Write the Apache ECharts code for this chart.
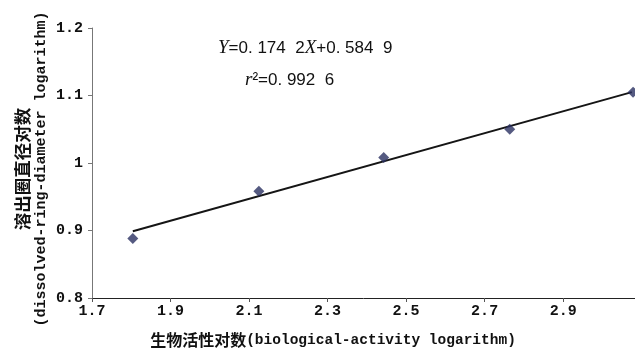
<!DOCTYPE html>
<html>
<head>
<meta charset="utf-8">
<script src="https://cdn.jsdelivr.net/npm/echarts@6/dist/echarts.min.js"></script>
<style>html,body{margin:0;padding:0;background:#fff;}#c{width:635px;height:349px;}</style>
</head>
<body>
<div id="c"></div>
<script>
var xValues = [1.804, 2.125, 2.443, 2.764, 3.078];
var yValues = [0.888, 0.958, 1.008, 1.050, 1.105];
var fitX = [1.804, 3.075];
var fitY = [0.899, 1.105];
var xTicks = [1.7, 1.9, 2.1, 2.3, 2.5, 2.7, 2.9];
var xMax = 3.083;
var yTicks = [0.8, 0.9, 1, 1.1, 1.2];

var pts = xValues.map(function (x, i) { return [x, yValues[i]]; });
var fit = fitX.map(function (x, i) { return [x, fitY[i]]; });

var chart = echarts.init(document.getElementById('c'));
var latin = 'Liberation Mono';
var cjk = 'Noto Sans CJK SC';
chart.setOption({
  animation: false,
  backgroundColor: '#fff',
  grid: { left: 92, top: 28, right: 0, bottom: 51, containLabel: false },
  xAxis: {
    type: 'value', min: xTicks[0], max: xMax, interval: 0.2,
    splitLine: { show: false },
    axisLine: { lineStyle: { color: '#222', width: 1 } },
    axisTick: { length: 4, lineStyle: { color: '#555' } },
    axisLabel: { margin: 6, color: '#111', fontFamily: latin, fontSize: 15, fontWeight: 'bold', showMaxLabel: false,
      formatter: function (v) { return v.toFixed(1); } }
  },
  yAxis: {
    type: 'value', min: yTicks[0], max: yTicks[yTicks.length - 1], interval: 0.1,
    splitLine: { show: false },
    axisLine: { show: true, lineStyle: { color: '#777', width: 1 } },
    axisTick: { show: true, length: 4, lineStyle: { color: '#777' } },
    axisLabel: { margin: 9, color: '#111', fontFamily: latin, fontSize: 15, fontWeight: 'bold',
      formatter: function (v) { return (Math.round(v * 10) / 10).toString(); } }
  },
  series: [
    { type: 'line', data: fit, symbol: 'none', lineStyle: { color: '#151515', width: 2 }, z: 2 },
    { type: 'scatter', data: pts, symbol: 'diamond', symbolSize: 11,
      itemStyle: { color: '#2b3162' }, z: 3 }
  ],
  graphic: [
    { type: 'text', x: 333, y: 340,
      style: { text: '{c|生物活性对数}{e|(biological-activity logarithm)}', align: 'center', verticalAlign: 'middle',
        rich: {
          c: { fontFamily: cjk, fontSize: 16, fontWeight: 'bold', fill: '#111' },
          e: { fontFamily: latin, fontSize: 14.5, fontWeight: 'bold', fill: '#111' }
        } } },
    { type: 'text', x: 32, y: 169, rotation: Math.PI / 2,
      style: { text: '{c|溶出圈直径对数}\n{e|(dissolved-ring-diameter logarithm)}', align: 'center', verticalAlign: 'middle',
        rich: {
          c: { fontFamily: cjk, fontSize: 17.5, fontWeight: 'bold', fill: '#111', lineHeight: 19, align: 'center' },
          e: { fontFamily: latin, fontSize: 15, fontWeight: 'bold', fill: '#111', lineHeight: 19, align: 'center' }
        } } },
    { type: 'text', x: 218, y: 48,
      style: { text: '{i|Y}{n|=0. 174  2}{i|X}{n|+0. 584  9}', align: 'left', verticalAlign: 'middle',
        rich: {
          i: { fontFamily: 'Liberation Serif', fontStyle: 'italic', fontSize: 19, fill: '#111' },
          n: { fontFamily: 'Liberation Sans', fontSize: 17, fill: '#111' }
        } } },
    { type: 'text', x: 245, y: 80,
      style: { text: '{i|r}{n|²=0. 992  6}', align: 'left', verticalAlign: 'middle',
        rich: {
          i: { fontFamily: 'Liberation Serif', fontStyle: 'italic', fontSize: 19, fill: '#111' },
          n: { fontFamily: 'Liberation Sans', fontSize: 17, fill: '#111' }
        } } }
  ]
});
</script>
</body>
</html>
